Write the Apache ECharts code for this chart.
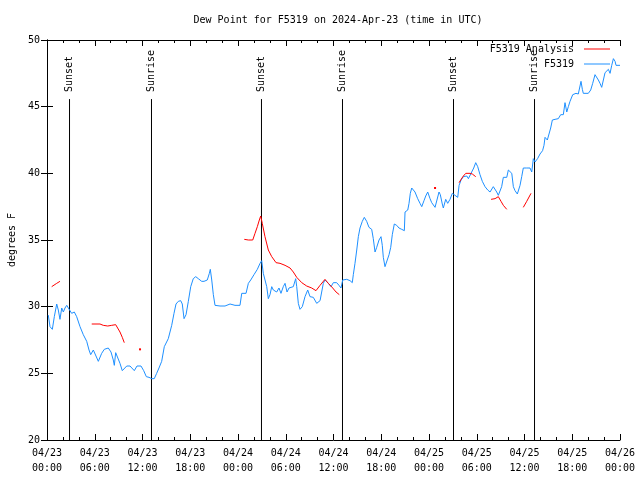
<!DOCTYPE html>
<html>
<head>
<meta charset="utf-8">
<script src="https://cdn.jsdelivr.net/npm/echarts@6/dist/echarts.min.js"></script>
<style>html,body{margin:0;padding:0;background:#fff}#c{width:640px;height:480px}</style>
</head>
<body>
<div id="c"></div>
<script>
// Hours since 2024-04-23 00:00 UTC
const obsHours = [0.16,0.38,0.67,0.92,1.22,1.42,1.63,1.85,2.05,2.26,2.48,2.68,2.89,3.10,3.43,3.73,4.15,4.56,4.99,5.28,5.49,5.82,6.03,6.45,6.87,7.20,7.70,8.04,8.33,8.46,8.63,8.88,9.17,9.46,9.71,10.02,10.43,10.64,10.97,11.31,11.81,12.15,12.48,12.82,13.16,13.48,13.78,14.07,14.41,14.74,15.24,15.67,15.96,16.21,16.50,16.80,17.00,17.22,17.47,17.76,18.06,18.38,18.69,19.01,19.44,19.73,20.14,20.40,20.52,20.70,20.90,21.11,21.74,22.37,23.00,23.62,24.25,24.47,24.67,25.01,25.30,25.60,26.01,26.43,26.77,26.98,27.18,27.61,27.81,28.02,28.24,28.44,28.65,28.86,29.15,29.40,29.69,29.91,30.16,30.41,30.66,30.95,31.25,31.38,31.58,31.79,32.08,32.42,32.76,33.05,33.46,33.89,34.31,34.52,34.72,34.93,35.35,35.69,35.98,36.40,36.69,36.94,37.16,37.66,38.08,38.36,38.49,38.70,38.92,39.12,39.33,39.62,39.87,40.17,40.46,40.80,41.00,41.22,41.43,41.72,41.97,42.13,42.26,42.47,42.69,42.98,43.19,43.39,43.64,43.94,44.23,44.57,44.90,44.99,45.33,45.49,45.65,45.83,46.03,46.24,46.58,46.87,47.09,47.37,47.59,47.84,48.13,48.34,48.54,48.76,49.01,49.26,49.42,49.67,49.80,50.10,50.35,50.64,50.93,51.11,51.27,51.40,51.61,51.78,52.03,52.32,52.53,52.75,52.95,53.03,53.28,53.44,53.62,53.87,54.12,54.41,54.70,55.04,55.38,55.67,55.88,56.08,56.30,56.51,56.71,56.92,57.13,57.34,57.77,57.97,58.18,58.40,58.60,58.81,59.10,59.44,59.65,59.85,60.28,60.69,60.91,61.11,61.32,61.64,61.95,62.27,62.45,62.58,62.70,62.87,63.12,63.29,63.50,63.84,64.25,64.55,64.88,65.09,65.31,65.51,65.72,66.06,66.47,66.76,66.98,67.10,67.27,67.39,67.61,68.02,68.32,68.57,68.86,69.07,69.28,69.49,69.70,69.91,70.12,70.33,70.54,70.75,70.96,71.17,71.38,71.50,72.00];
const obsValues = [29.37,28.5,28.3,29.25,30.2,29.75,29.05,29.9,29.6,29.9,30.1,29.9,29.7,29.5,29.6,29.25,28.5,27.9,27.4,26.75,26.4,26.75,26.6,25.9,26.5,26.8,26.9,26.6,26.0,25.6,26.55,26.5,25.75,25.2,25.2,25.55,25.55,25.45,25.2,25.55,25.55,25.2,24.75,24.7,24.6,24.6,25.0,25.4,25.9,27.0,27.6,28.6,29.5,30.2,30.4,30.45,30.2,29.1,29.4,30.4,31.5,32.1,32.25,32.1,31.9,31.9,32.0,32.5,32.8,32.0,30.9,30.1,30.05,30.05,30.2,30.1,30.1,31.0,30.9,31.0,31.75,32.0,32.4,32.8,33.25,33.45,32.5,31.5,30.6,30.9,31.5,31.25,31.4,31.1,31.4,31.0,31.5,31.75,31.1,31.4,31.25,31.5,32.1,31.5,30.25,29.8,30.0,30.75,31.25,30.75,30.7,30.25,30.45,30.6,31.75,32.0,31.75,31.5,31.8,31.8,31.6,31.4,32.0,32.05,31.95,31.8,32.4,33.25,34.25,35.25,35.9,36.4,36.7,36.4,35.95,35.8,35.1,34.1,34.45,35.0,35.25,34.6,33.7,33.0,33.1,33.9,34.45,35.4,36.2,36.1,35.9,35.8,35.7,37.1,37.25,37.75,38.5,38.9,38.95,38.6,38.1,37.75,37.5,37.95,38.3,38.6,38.1,37.8,37.75,37.45,37.45,38.6,38.4,37.7,37.4,38.05,37.75,38.05,38.5,38.55,38.35,38.2,38.2,39.1,39.5,39.75,39.9,39.8,39.6,39.45,40.0,39.9,40.4,40.8,40.5,39.9,39.4,39.0,38.75,38.6,38.75,39.0,39.1,38.6,38.35,38.5,39.0,39.7,39.7,40.25,40.4,40.0,39.0,38.7,38.45,39.1,39.75,40.4,40.4,40.4,40.1,41.1,40.85,41.1,41.45,41.7,42.1,42.7,42.75,42.5,42.55,43.4,44.0,44.05,44.1,44.4,44.4,45.3,44.6,45.0,45.4,45.9,46.0,45.95,46.1,46.9,46.3,46.0,45.95,46.0,46.25,46.75,47.4,47.5,47.0,46.75,46.45,47.0,47.55,47.4,47.8,47.5,48.1,48.6,48.4,48.1,48.1];

// Analysis series; null marks a gap in the line
const anaHours = [0.59,0.79,1.22,1.63,null,5.62,6.66,7.07,7.63,8.13,8.63,8.88,9.17,9.46,9.71,null,11.69,null,24.79,25.30,25.85,26.14,26.43,26.68,26.85,27.05,27.39,27.81,28.24,28.78,29.28,29.91,30.54,30.95,31.38,32.01,32.63,33.26,33.80,34.31,34.93,35.35,35.90,36.32,36.73,null,48.76,null,51.78,52.03,52.32,52.62,52.87,53.16,53.44,53.87,null,55.80,56.30,56.71,57.05,57.34,57.77,null,59.85,60.28,60.82];
const anaValues = [31.5,31.6,31.75,31.9,null,28.7,28.7,28.6,28.55,28.6,28.65,28.6,28.1,27.7,27.3,null,26.8,null,35.05,35.0,35.0,35.5,36.0,36.5,36.8,36.25,35.25,34.25,33.75,33.3,33.25,33.1,32.9,32.6,32.2,31.8,31.55,31.4,31.2,31.6,32.05,31.75,31.4,31.1,30.9,null,38.9,null,39.3,39.55,39.8,40.0,40.1,40.0,39.95,39.75,null,38.05,38.1,38.25,37.9,37.6,37.3,null,37.45,37.9,38.5];

const sunHours = [2.83, 13.13, 26.95, 37.13, 51.08, 61.26];
const sunLabels = ['Sunset', 'Sunrise', 'Sunset', 'Sunrise', 'Sunset', 'Sunrise'];
const sunLineRange = [20, 45.57];

const yTicks = [20, 25, 30, 35, 40, 45, 50];

const FONT = 'DejaVu Sans Mono';
const BLUE = '#1e90ff';
const RED = '#ff0000';

function pad(n){ return (n < 10 ? '0' : '') + n; }
function fmtHour(h){
  const d = new Date(Date.UTC(2024, 3, 23) + h * 3600000);
  return pad(d.getUTCMonth() + 1) + '/' + pad(d.getUTCDate()) + '\n' + pad(d.getUTCHours()) + ':' + pad(d.getUTCMinutes());
}

const obsData = obsHours.map((h, i) => [h, obsValues[i]]);
const anaData = anaHours.map((h, i) => {
  if (h === null) return ['-', '-'];
  const prevGap = i === 0 || anaHours[i - 1] === null;
  const nextGap = i === anaHours.length - 1 || anaHours[i + 1] === null;
  if (prevGap && nextGap) return { value: [h, anaValues[i]], symbol: 'rect', symbolSize: 2, itemStyle: { color: RED, borderWidth: 0 } };
  return { value: [h, anaValues[i]], symbolSize: 0 };
});

const sunSeries = sunHours.map((h, i) => ({
  type: 'line',
  name: 'sun' + i,
  silent: true,
  showSymbol: true, showAllSymbol: true,
  symbol: 'rect', symbolSize: 0,
  itemStyle: { color: '#000' },
  lineStyle: { color: '#000', width: 1 },
  data: [
    [h, sunLineRange[0]],
    { value: [h, sunLineRange[1]], label: {
      show: true, formatter: sunLabels[i], position: 'top', distance: 7,
      rotate: 90, align: 'left', verticalAlign: 'middle',
      fontFamily: FONT, fontSize: 10, color: '#000'
    } }
  ],
  z: 1
}));

const chart = echarts.init(document.getElementById('c'));
const axisCommon = {
  axisLine: { show: true, lineStyle: { color: '#000', width: 1 } },
  splitLine: { show: false }
};
chart.setOption({
  animation: false,
  backgroundColor: '#fff',
  title: {
    text: 'Dew Point for F5319 on 2024-Apr-23 (time in UTC)',
    left: 333, textAlign: 'center', top: 10,
    textStyle: { fontFamily: FONT, fontSize: 10, fontWeight: 'normal', color: '#000' }
  },
  legend: [
    { data: ['F5319 Analysis'], right: 30, top: 44, padding: 0, orient: 'vertical', align: 'right',
      icon: 'rect', itemWidth: 26, itemHeight: 1, selectedMode: false,
      textStyle: { fontFamily: FONT, fontSize: 10, color: '#000', padding: [0, 5, 0, 0] } },
    { data: ['F5319'], right: 30, top: 59, padding: 0, orient: 'vertical', align: 'right',
      icon: 'rect', itemWidth: 26, itemHeight: 1, selectedMode: false,
      textStyle: { fontFamily: FONT, fontSize: 10, color: '#000', padding: [0, 5, 0, 0] } }
  ],
  grid: { left: 47, right: 20, top: 40, bottom: 40, containLabel: false, outerBoundsMode: 'none' },
  xAxis: [
    Object.assign({}, axisCommon, {
      type: 'value', min: 0, max: 72, interval: 6, position: 'bottom',
      axisTick: { show: true, inside: true, length: 6, lineStyle: { color: '#000' } },
      minorTick: { show: true, splitNumber: 3, length: 3, lineStyle: { color: '#000' } },
      axisLabel: { formatter: fmtHour, fontFamily: FONT, fontSize: 10, color: '#000', lineHeight: 15, margin: 6,
        showMinLabel: true, showMaxLabel: true }
    }),
    Object.assign({}, axisCommon, {
      type: 'value', min: 0, max: 72, interval: 6, position: 'top',
      axisTick: { show: true, inside: true, length: 6, lineStyle: { color: '#000' } },
      minorTick: { show: true, splitNumber: 3, length: 3, lineStyle: { color: '#000' } },
      axisLabel: { show: false }
    })
  ],
  yAxis: [
    Object.assign({}, axisCommon, {
      type: 'value', min: yTicks[0], max: yTicks[yTicks.length - 1], interval: 5, position: 'left',
      name: 'degrees F', nameLocation: 'middle', nameRotate: 90, nameGap: 30,
      nameTextStyle: { fontFamily: FONT, fontSize: 10, color: '#000' },
      axisTick: { show: true, inside: true, length: 6, lineStyle: { color: '#000' } },
      axisLabel: { fontFamily: FONT, fontSize: 10, color: '#000', margin: 7 }
    }),
    Object.assign({}, axisCommon, {
      type: 'value', min: yTicks[0], max: yTicks[yTicks.length - 1], interval: 5, position: 'right',
      axisTick: { show: true, inside: true, length: 6, lineStyle: { color: '#000' } },
      axisLabel: { show: false }
    })
  ],
  series: sunSeries.concat([
    {
      type: 'line', name: 'F5319 Analysis', data: anaData,
      showSymbol: true, showAllSymbol: true, symbol: 'rect', symbolSize: 0,
      connectNulls: false, color: RED,
      itemStyle: { color: RED, borderWidth: 0 },
      lineStyle: { color: RED, width: 1 }, z: 3
    },
    {
      type: 'line', name: 'F5319', data: obsData,
      symbol: 'none', showSymbol: false, color: BLUE,
      lineStyle: { color: BLUE, width: 1 }, z: 2
    }
  ])
});
</script>
</body>
</html>
